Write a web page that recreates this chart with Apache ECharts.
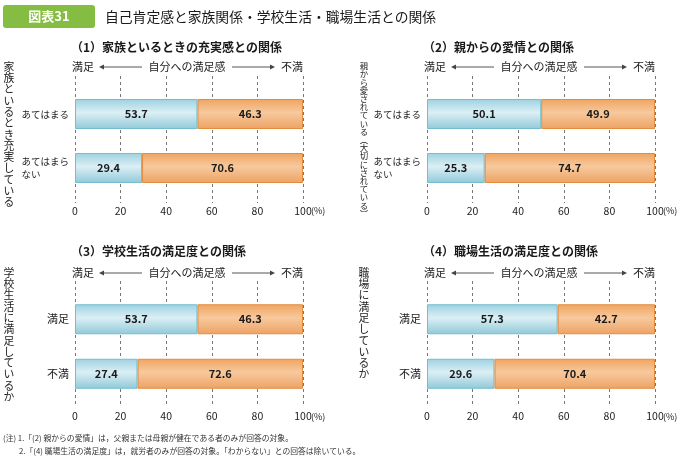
<!DOCTYPE html>
<html><head><meta charset="utf-8">
<script src="https://cdn.jsdelivr.net/npm/echarts@6/dist/echarts.min.js"></script>
<style>html,body{margin:0;padding:0;background:#fff}#c{width:683px;height:458px}</style>
</head><body><div id="c"></div>
<script>
// ---- data ----
const figureBadge = '図表31';
const figureTitle = '自己肯定感と家族関係・学校生活・職場生活との関係';
const panelTitles = ['（1）家族といるときの充実感との関係', '（2）親からの愛情との関係', '（3）学校生活の満足度との関係', '（4）職場生活の満足度との関係'];
const sideLabels = ['家族といるとき充実している', '親から愛されている︵大切にされている︶', '学校生活に満足しているか', '職場に満足しているか'];
const categoriesFeel = ['あてはまる', 'あてはまらない'];
const categoriesLife = ['満足', '不満'];
const p1Satisfied = [53.7, 29.4];
const p1Dissatisfied = [46.3, 70.6];
const p2Satisfied = [50.1, 25.3];
const p2Dissatisfied = [49.9, 74.7];
const p3Satisfied = [53.7, 27.4];
const p3Dissatisfied = [46.3, 72.6];
const p4Satisfied = [57.3, 29.6];
const p4Dissatisfied = [42.7, 70.4];
const xTicks = [0, 20, 40, 60, 80, 100];
const scaleWords = ['満足', '自分への満足感', '不満'];
const notes = ['(注) 1.「(2) 親からの愛情」は，父親または母親が健在である者のみが回答の対象。', '2.「(4) 職場生活の満足度」は，就労者のみが回答の対象。「わからない」との回答は除いている。'];

// ---- layout ----
const FONT = '"Noto Sans CJK JP", sans-serif';
const cols = [75, 427];
const W = 228;
const rows = [
  { title: 47, scale: 67, gTop: 76, gH: 127, bTop: 87, bH: 108, labM: 3, labY: 211 },
  { title: 251, scale: 273, gTop: 281, gH: 124, bTop: 292, bH: 109, labM: 6, labY: 417 }
];
const panels = [
  { col: 0, row: 0, cats: categoriesFeel, s: p1Satisfied, d: p1Dissatisfied, catSize: 9.5, side: { x: 9, y: 61, size: 10.8, lh: 11.3 } },
  { col: 1, row: 0, cats: categoriesFeel, s: p2Satisfied, d: p2Dissatisfied, catSize: 9.5, side: { x: 364, y: 62, size: 8.4, lh: 8.2 } },
  { col: 0, row: 1, cats: categoriesLife, s: p3Satisfied, d: p3Dissatisfied, catSize: 11, side: { x: 9, y: 267, size: 10.8, lh: 11.3 } },
  { col: 1, row: 1, cats: categoriesLife, s: p4Satisfied, d: p4Dissatisfied, catSize: 11, side: { x: 364, y: 267, size: 10.8, lh: 11.3 } }
];

const blueFill = new echarts.graphic.LinearGradient(0, 0, 0, 1, [
  { offset: 0, color: '#9dd1e0' }, { offset: 0.45, color: '#dbeff5' }, { offset: 1, color: '#91c9d8' }]);
const orangeFill = new echarts.graphic.LinearGradient(0, 0, 0, 1, [
  { offset: 0, color: '#efa45f' }, { offset: 0.45, color: '#f7c99d' }, { offset: 1, color: '#eda264' }]);

const grid = [], xAxis = [], yAxis = [], series = [], graphic = [];

function catFormatter(v) {
  if (v.length > 5) {
    const rest = v.slice(5);
    return v.slice(0, 5) + '\n' + rest + '\u3000'.repeat(5 - rest.length);
  }
  return v;
}

panels.forEach((p, i) => {
  const L = cols[p.col], R = rows[p.row];
  const gi = 2 * i, bi = 2 * i + 1;
  grid.push({ left: L, width: W, top: R.gTop, height: R.gH });
  grid.push({ left: L, width: W, top: R.bTop, height: R.bH });
  xAxis.push({
    gridIndex: gi, type: 'value', min: 0, max: 100, interval: 20,
    axisLine: { show: false }, axisTick: { show: false },
    splitLine: { show: true, lineStyle: { color: '#777', type: [3, 3], width: 1 } },
    axisLabel: { margin: R.labM, fontSize: 10.5, color: '#222', fontFamily: FONT,
      formatter: v => (xTicks.includes(v) ? String(v) : '') }
  });
  xAxis.push({ gridIndex: bi, type: 'value', min: 0, max: 100, show: false });
  yAxis.push({ gridIndex: gi, type: 'category', data: p.cats, show: false });
  yAxis.push({
    gridIndex: bi, type: 'category', data: p.cats, inverse: true,
    axisLine: { show: false }, axisTick: { show: false }, splitLine: { show: false },
    axisLabel: { margin: 6, fontSize: p.catSize, color: '#222', fontFamily: FONT, lineHeight: 13, formatter: catFormatter }
  });
  const lbl = { show: true, position: 'inside', color: '#1a1a1a', fontWeight: 'bold', fontSize: 11, fontFamily: FONT,
    formatter: o => o.value.toFixed(1) };
  series.push({ type: 'bar', xAxisIndex: bi, yAxisIndex: bi, stack: 's' + i, data: p.s, barWidth: 30,
    itemStyle: { color: blueFill, borderColor: '#74bdd2', borderWidth: 1 }, label: lbl, silent: true });
  series.push({ type: 'bar', xAxisIndex: bi, yAxisIndex: bi, stack: 's' + i, data: p.d, barWidth: 30,
    itemStyle: { color: orangeFill, borderColor: '#e38c40', borderWidth: 1 }, label: lbl, silent: true });

  // panel title
  graphic.push({ type: 'text', style: { text: panelTitles[i], x: L - 4, y: R.title, textAlign: 'left', textVerticalAlign: 'middle',
    font: 'bold 12px ' + FONT, fill: '#1a1a1a' } });
  // scale words + arrows
  const y = R.scale;
  graphic.push({ type: 'text', style: { text: scaleWords[0], x: L - 3, y, textAlign: 'left', textVerticalAlign: 'middle', font: '11px ' + FONT, fill: '#222' } });
  graphic.push({ type: 'text', style: { text: scaleWords[1], x: L + 112, y, textAlign: 'center', textVerticalAlign: 'middle', font: '11px ' + FONT, fill: '#222' } });
  graphic.push({ type: 'text', style: { text: scaleWords[2], x: L + W, y, textAlign: 'right', textVerticalAlign: 'middle', font: '11px ' + FONT, fill: '#222' } });
  graphic.push({ type: 'line', shape: { x1: L + 27, y1: y, x2: L + 67, y2: y }, style: { stroke: '#555', lineWidth: 1 } });
  graphic.push({ type: 'polygon', shape: { points: [[L + 24, y], [L + 29, y - 2.5], [L + 29, y + 2.5]] }, style: { fill: '#444' } });
  graphic.push({ type: 'line', shape: { x1: L + 157, y1: y, x2: L + 196, y2: y }, style: { stroke: '#555', lineWidth: 1 } });
  graphic.push({ type: 'polygon', shape: { points: [[L + 200, y], [L + 195, y - 2.5], [L + 195, y + 2.5]] }, style: { fill: '#444' } });
  // (%)
  graphic.push({ type: 'text', style: { text: '(%)', x: L + W + 8, y: R.labY, textAlign: 'left', textVerticalAlign: 'middle', font: '9px ' + FONT, fill: '#222' } });
  // vertical side label
  graphic.push({ type: 'text', style: { text: sideLabels[i].split('').join('\n'), x: p.side.x, y: p.side.y, textAlign: 'center', textVerticalAlign: 'top',
    font: p.side.size + 'px ' + FONT, lineHeight: p.side.lh, fill: '#222' } });
});

// figure header
graphic.push({ type: 'rect', shape: { x: 3, y: 5, width: 92, height: 23, r: 3 }, style: { fill: '#84bd41' } });
graphic.push({ type: 'text', style: { text: figureBadge, x: 49, y: 16.5, textAlign: 'center', textVerticalAlign: 'middle', font: 'bold 13px ' + FONT, fill: '#fff' } });
graphic.push({ type: 'text', style: { text: figureTitle, x: 105, y: 17, textAlign: 'left', textVerticalAlign: 'middle', font: '13.8px ' + FONT, fill: '#1a1a1a' } });
// notes
graphic.push({ type: 'text', style: { text: notes[0], x: 3, y: 438, textAlign: 'left', textVerticalAlign: 'middle', font: '7.8px ' + FONT, fill: '#333' } });
graphic.push({ type: 'text', style: { text: notes[1], x: 19, y: 451, textAlign: 'left', textVerticalAlign: 'middle', font: '7.8px ' + FONT, fill: '#333' } });

const chart = echarts.init(document.getElementById('c'), null, { renderer: 'canvas' });
chart.setOption({ animation: false, grid, xAxis, yAxis, series, graphic });
</script>
</body></html>
